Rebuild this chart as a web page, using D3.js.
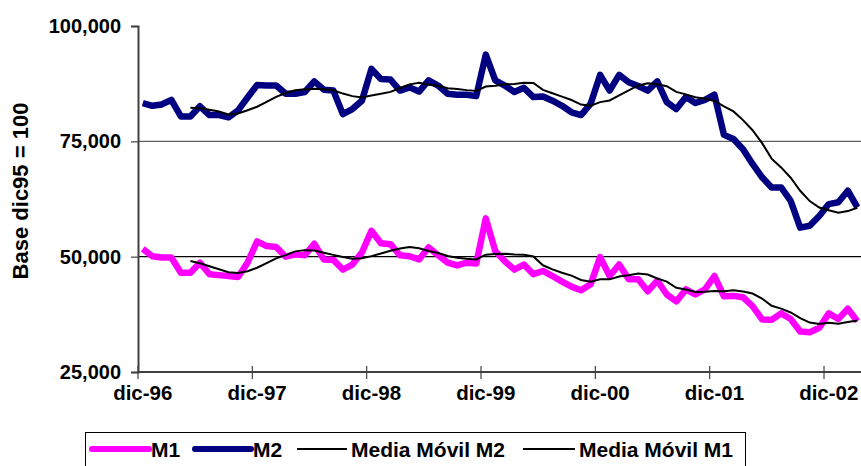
<!DOCTYPE html>
<html>
<head>
<meta charset="utf-8">
<script src="https://cdn.jsdelivr.net/npm/d3@7/dist/d3.min.js"></script>
<style>
  body { margin: 0; background: #fff; }
  svg { display: block; }
  text { font-family: "Liberation Sans", Arial, sans-serif; font-weight: bold; fill: #000; }
</style>
</head>
<body>
<svg id="chart" width="861" height="466"></svg>
<script>
// Monthly categories, dic-96 .. mar-03
const monthNames = ["ene", "feb", "mar", "abr", "may", "jun", "jul", "ago", "sep", "oct", "nov", "dic"];
const months = d3.range(76).map(k => {
  const m = (11 + k) % 12;
  const yr = (1996 + Math.floor((11 + k) / 12)) % 100;
  return monthNames[m] + "-" + String(yr).padStart(2, "0");
});

// M1 index (Base dic95 = 100)
const m1 = [
  51700, 50100, 49800, 49800, 46500, 46500, 48700, 46200, 46000, 45800, 45600, 48700,
  53300, 52300, 52100, 50000, 50500, 50300, 52800, 49400, 49300, 47200, 48300, 50900,
  55600, 52900, 52700, 50300, 50100, 49400, 52000, 50300, 48700, 48100, 48700, 48500,
  58300, 51200, 49000, 47200, 48300, 46200, 46900, 45800, 44600, 43500, 42700, 44000,
  49900, 45800, 48300, 45100, 45100, 42500, 44800, 41800, 40300, 42900, 41800, 42900,
  45800, 41400, 41500, 41200, 39300, 36400, 36300, 37700, 36500, 33800, 33600, 34600,
  37700, 36500, 38700, 36000
];

// M2 index (Base dic95 = 100)
const m2 = [
  83300, 82700, 83000, 84000, 80400, 80400, 82600, 80700, 80700, 80200, 81700, 84500,
  87200, 87100, 87100, 85300, 85300, 85700, 88000, 86200, 86000, 80900, 82000, 83800,
  90700, 88500, 88400, 86000, 86700, 85800, 88200, 87100, 85300, 85100, 85100, 84800,
  93800, 88200, 87100, 85700, 86600, 84600, 84700, 83800, 82700, 81300, 80700, 83100,
  89400, 86000, 89400, 87800, 87000, 86000, 88000, 83500, 82000, 84600, 83300, 84000,
  85100, 76400, 75500, 73300, 70100, 67200, 65000, 65000, 62100, 56300, 56700, 58800,
  61400, 61800, 64300, 60700
];

const yTicks = [25000, 50000, 75000, 100000];
const xTickLabels = ["dic-96", "dic-97", "dic-98", "dic-99", "dic-00", "dic-01", "dic-02"];
const maPeriod = 6;

// trailing moving average (Excel-style trendline)
function movingAverage(values, period) {
  const out = [];
  for (let i = period - 1; i < values.length; i++) {
    out.push({ i, v: d3.mean(values.slice(i - period + 1, i + 1)) });
  }
  return out;
}

const svg = d3.select("#chart");
const left = 138, bandW = 9.528;
const x = d3.scaleBand().domain(months).range([left, left + months.length * bandW]).padding(0);
const y = d3.scaleLinear().domain([25000, 100000]).range([372, 26]);
const cx = i => x(months[i]) + x.bandwidth() / 2;

// horizontal gridlines
svg.append("line").attr("x1", left).attr("x2", 861)
  .attr("y1", y(75000)).attr("y2", y(75000))
  .attr("stroke", "#5f5f5f").attr("stroke-width", 1.2);
svg.append("line").attr("x1", left).attr("x2", 861)
  .attr("y1", y(50000)).attr("y2", y(50000))
  .attr("stroke", "#000").attr("stroke-width", 1.2);

// y axis
const yAxis = svg.append("g").attr("transform", `translate(${left},0)`)
  .call(d3.axisLeft(y).tickValues(yTicks).tickSize(7).tickPadding(10).tickFormat(d3.format(",")));
yAxis.select(".domain").attr("stroke", "#404040").attr("stroke-width", 2);
yAxis.selectAll(".tick line").attr("stroke", "#404040").attr("stroke-width", 1.2);
yAxis.selectAll(".tick text").attr("font-size", 20).attr("font-family", "Liberation Sans, Arial, sans-serif")
  .attr("font-weight", "bold").attr("fill", "#000");

// x axis
const xg = svg.append("g");
xg.append("line").attr("x1", left).attr("x2", 861).attr("y1", y(25000)).attr("y2", y(25000))
  .attr("stroke", "#404040").attr("stroke-width", 2);
xg.selectAll("line.tick").data(xTickLabels).join("line").attr("class", "tick")
  .attr("x1", d => x(d)).attr("x2", d => x(d))
  .attr("y1", y(25000) - 6).attr("y2", y(25000) + 7)
  .attr("stroke", "#404040").attr("stroke-width", 1.2);
xg.selectAll("text").data(xTickLabels).join("text")
  .attr("x", d => x(d) + x.bandwidth() / 2).attr("y", 400)
  .attr("text-anchor", "middle").attr("font-size", 20.5).text(d => d);

// y axis title
svg.append("text").attr("transform", "translate(28,191) rotate(-90)")
  .attr("text-anchor", "middle").attr("font-size", 22).text("Base dic95 = 100");

// series
const line = d3.line().x(d => cx(d.i)).y(d => y(d.v));
const toPts = arr => arr.map((v, i) => ({ i, v }));

svg.append("path").datum(toPts(m1)).attr("d", line)
  .attr("fill", "none").attr("stroke", "#ff00ff").attr("stroke-width", 6.5).attr("stroke-linejoin", "round");
svg.append("path").datum(toPts(m2)).attr("d", line)
  .attr("fill", "none").attr("stroke", "#000080").attr("stroke-width", 6.5).attr("stroke-linejoin", "round");
svg.append("path").datum(movingAverage(m2, maPeriod)).attr("d", line)
  .attr("fill", "none").attr("stroke", "#000").attr("stroke-width", 2);
svg.append("path").datum(movingAverage(m1, maPeriod)).attr("d", line)
  .attr("fill", "none").attr("stroke", "#000").attr("stroke-width", 2);

// legend
const legend = svg.append("g");
legend.append("rect").attr("x", 85.5).attr("y", 432.5).attr("width", 660).attr("height", 40)
  .attr("fill", "#fff").attr("stroke", "#000").attr("stroke-width", 1);
const items = [
  { label: "M1", color: "#ff00ff", w: 6, x1: 92, x2: 149, tx: 151 },
  { label: "M2", color: "#000080", w: 6, x1: 195, x2: 251, tx: 253 },
  { label: "Media Móvil M2", color: "#000", w: 2, x1: 297, x2: 347, tx: 351 },
  { label: "Media Móvil M1", color: "#000", w: 2, x1: 523, x2: 575, tx: 579 }
];
const li = legend.selectAll("g.item").data(items).join("g").attr("class", "item");
li.append("line").attr("x1", d => d.x1).attr("x2", d => d.x2).attr("y1", 449).attr("y2", 449)
  .attr("stroke", d => d.color).attr("stroke-width", d => d.w).attr("stroke-linecap", d => d.w > 3 ? "round" : "butt");
li.append("text").attr("x", d => d.tx).attr("y", 457).attr("font-size", 21).text(d => d.label);
</script>
</body>
</html>
